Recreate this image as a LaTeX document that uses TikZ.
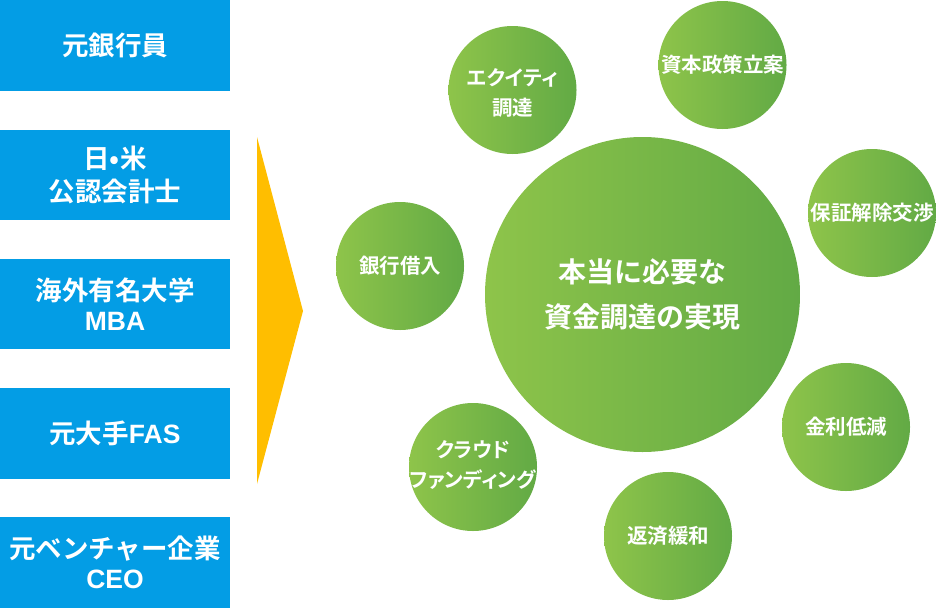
\documentclass[tikz,border=0pt]{standalone}
\usepackage{fontspec}
\setmainfont{Noto Sans CJK JP}[BoldFont={Noto Sans CJK JP Bold}]
\newfontfamily\paltfont{Noto Sans CJK JP}[BoldFont={Noto Sans CJK JP Bold}, RawFeature=+palt]
\newfontfamily\latinfont{Liberation Sans}
\definecolor{panelblue}{RGB}{3,157,229}
\definecolor{bubbleL}{RGB}{142,196,74}
\definecolor{bubbleR}{RGB}{98,170,69}
\definecolor{arrowyellow}{RGB}{255,190,0}
\tikzset{
  panel/.style={rectangle, fill=panelblue, minimum width=230pt, minimum height=90.5pt,
    inner sep=0pt, outer sep=0pt, text=white, align=center,
    font=\bfseries\fontsize{26.5}{33}\selectfont},
  bubble/.style={circle, left color=bubbleL, right color=bubbleR, draw=none,
    minimum size=128pt, inner sep=0pt},
  bubbletext/.style={inner sep=0pt, text=white, align=center,
    font=\bfseries\fontsize{20.5}{30}\selectfont},
  kanatext/.style={font=\paltfont\bfseries\fontsize{20.5}{30}\selectfont},
}
\newcommand{\PanelBox}[3][]{\node[panel, #1] (#2) {#3};}
\newcommand{\Bubble}[4][]{\node[bubble, #1] (#2) {};
  \node[bubbletext, #3] (#2-text) at (#2) {#4};}

\begin{document}
\begin{tikzpicture}[x=1pt, y=-1pt]
\useasboundingbox (0,0) rectangle (936,608);
\PanelBox[at={(115,45.25)}]{banker}{元銀行員}
	\PanelBox[at={(115,174.75)}]{cpa}{日•米\\公認会計士}
	\PanelBox[at={(115,304)}]{mba}{海外有名大学\\[-3pt]{\latinfont MBA}}
	\PanelBox[at={(115,433.25)}]{fas}{元大手{\latinfont FAS}}
	\PanelBox[at={(115,562.5)}]{ceo}{元ベンチャー企業\\[-3pt]{\latinfont CEO}}
	
	\fill[arrowyellow] (257,137) -- (303,311) -- (257,484) -- cycle;
	
	\Bubble[at={(642.5,294.5)}, minimum size=315pt]{goal}{font=\bfseries\fontsize{28}{45}\selectfont}{本当に必要な\\資金調達の実現}
	\Bubble[at={(512.5,90)}]{equity}{kanatext, yshift=-3pt}{エクイティ\\調達}
	\Bubble[at={(722.5,65)}]{capital}{}{資本政策立案}
	\Bubble[at={(872,213)}]{guarantee}{}{保証解除交渉}
	\Bubble[at={(400,266)}]{loan}{}{銀行借入}
	\Bubble[at={(846,427)}]{rate}{}{金利低減}
	\Bubble[at={(473,467)}]{crowd}{kanatext, yshift=2pt}{クラウド\\ファンディング}
	\Bubble[at={(668,536)}]{repay}{}{返済緩和}

\end{tikzpicture}
\end{document}
